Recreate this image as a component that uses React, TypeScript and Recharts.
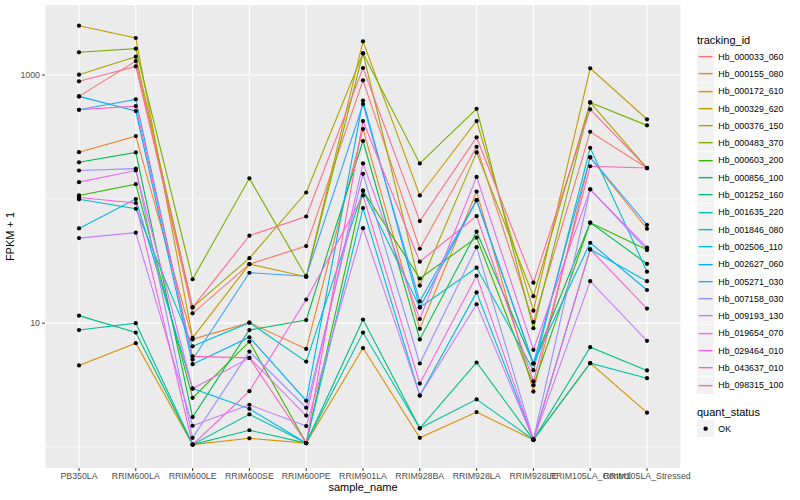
import React from "react";
import { LineChart, Line, XAxis, YAxis, CartesianGrid, ReferenceLine } from "recharts";

const FONT = '"Liberation Sans", Arial, Helvetica, sans-serif';

const SAMPLES = [
    "PB350LA", "RRIM600LA", "RRIM600LE", "RRIM600SE", "RRIM600PE", "RRIM901LA",
    "RRIM928BA", "RRIM928LA", "RRIM928LE", "RRIM105LA_Control", "RRIM105LA_Stressed",
];

const IDS = [
    "Hb_000033_060", "Hb_000155_080", "Hb_000172_610", "Hb_000329_620", "Hb_000376_150",
    "Hb_000483_370", "Hb_000603_200", "Hb_000856_100", "Hb_001252_160", "Hb_001635_220",
    "Hb_001846_080", "Hb_002506_110", "Hb_002627_060", "Hb_005271_030", "Hb_007158_030",
    "Hb_009193_130", "Hb_019654_070", "Hb_029464_010", "Hb_043637_010", "Hb_098315_100",
];

const COLORS = [
    "#F8766D", "#EA8331", "#D89000", "#C09B00", "#A3A500", "#7CAE00", "#39B600", "#00BB4E", "#00BF7D", "#00C1A3",
    "#00BFC4", "#00BAE0", "#00B0F6", "#35A2FF", "#9590FF", "#C77CFF", "#E76BF3", "#FA62DB", "#FF62BC", "#FF6C91",
];

// FPKM + 1, one array per tracking_id, in SAMPLES order
const Hb_000033_060 = [673, 1297, 12.0, 29.9, 41.8, 906, 39.8, 264, 10.2, 349, 178];
const Hb_000155_080 = [239, 322, 7.4, 10.1, 6.2, 367, 9.0, 115, 2.81, 217, 57.7];
const Hb_000172_610 = [4.56, 6.9, 1.05, 1.18, 1.08, 6.3, 1.19, 1.92, 1.15, 4.76, 1.9];
const Hb_000329_620 = [2500, 1990, 7.6, 29.9, 23.7, 1870, 107, 426, 12.6, 1132, 440];
const Hb_000376_150 = [1007, 1406, 13.4, 33.4, 113, 1497, 20.1, 238, 16.5, 602, 178];
const Hb_000483_370 = [1525, 1633, 22.6, 147, 23.7, 1497, 194, 535, 9.1, 602, 393];
const Hb_000603_200 = [107, 132, 2.5, 7.1, 1.08, 117, 22.9, 49, 3.16, 64.6, 39];
const Hb_000856_100 = [198, 238, 1.75, 8.8, 10.6, 294, 7.4, 54.6, 4.73, 64.6, 30.1];
const Hb_001252_160 = [11.5, 8.4, 1.05, 1.37, 1.08, 10.7, 1.42, 4.82, 1.15, 6.4, 4.16];
const Hb_001635_220 = [8.8, 10, 1.05, 1.84, 1.08, 8.4, 1.42, 2.43, 1.15, 4.76, 3.6];
const Hb_001846_080 = [99.6, 83.6, 6.5, 10.1, 4.9, 117, 13.4, 28, 4.18, 259, 26];
const Hb_002506_110 = [58, 100, 2.97, 2.04, 1.08, 84.6, 2.61, 17.7, 1.15, 39.3, 21.8];
const Hb_002627_060 = [673, 513, 4.67, 7.7, 2.37, 622, 13.4, 98, 4.73, 44.5, 18.5];
const Hb_005271_030 = [525, 637, 5.1, 25.5, 23.9, 584, 15, 98, 4.73, 217, 62];
const Hb_007158_030 = [170, 176, 1.19, 5.9, 2.08, 160, 4.73, 41, 1.15, 120, 39];
const Hb_009193_130 = [48.5, 53.6, 1.49, 2.2, 1.48, 58.3, 2.61, 14.2, 1.15, 21.8, 7.2];
const Hb_019654_070 = [137, 170, 2.97, 5.25, 1.8, 194, 10.8, 151, 6.1, 120, 40.7];
const Hb_029464_010 = [103, 93, 1.05, 2.83, 15.5, 107, 3.26, 24.1, 1.15, 39.3, 13.1];
const Hb_043637_010 = [525, 562, 5.4, 5.25, 1.08, 426, 31.3, 73, 3.4, 184, 178];
const Hb_098315_100 = [890, 1175, 13.4, 50.7, 72.4, 1140, 66.5, 315, 21.2, 529, 178];

const SERIES = [
    Hb_000033_060, Hb_000155_080, Hb_000172_610, Hb_000329_620, Hb_000376_150,
    Hb_000483_370, Hb_000603_200, Hb_000856_100, Hb_001252_160, Hb_001635_220,
    Hb_001846_080, Hb_002506_110, Hb_002627_060, Hb_005271_030, Hb_007158_030,
    Hb_009193_130, Hb_019654_070, Hb_029464_010, Hb_043637_010, Hb_098315_100,
];

const Y_TICKS = [10, 1000];
const MAJOR_LINES = [10, 1000];
const MINOR_LINES = [1, 100];

const rows = SAMPLES.map((s, i) => {
    const r: Record<string, string | number> = { sample_name: s };
    IDS.forEach((id, j) => { r[id] = SERIES[j][i]; });
    return r;
});

function LegendBox() {
    const key = 17.3;
    return (
        <div style={{ position: "absolute", left: 697, top: 33, fontFamily: FONT, color: "#000" }}>
            <div style={{ fontSize: 11, height: 15, lineHeight: "15px" }}>tracking_id</div>
            {IDS.map((id, i) => (
                <div key={id} style={{ display: "flex", alignItems: "center", height: key }}>
                    <svg width={key} height={key} style={{ display: "block" }}>
                        <rect width={key} height={key} fill="#F2F2F2" />
                        <line x1={1.7} x2={key - 1.7} y1={key / 2} y2={key / 2} stroke={COLORS[i]} strokeWidth={1.4} />
                    </svg>
                    <span style={{ fontSize: 8.8, marginLeft: 4 }}>{id}</span>
                </div>
            ))}
            <div style={{ fontSize: 11, height: 15, lineHeight: "15px", marginTop: 11 }}>quant_status</div>
            <div style={{ display: "flex", alignItems: "center", height: key }}>
                <svg width={key} height={key} style={{ display: "block" }}>
                    <rect width={key} height={key} fill="#F2F2F2" />
                    <circle cx={key / 2} cy={key / 2} r={2.2} fill="#000" />
                </svg>
                <span style={{ fontSize: 8.8, marginLeft: 4 }}>OK</span>
            </div>
        </div>
    );
}

export default function App() {
    const tick = { fontSize: 8.8, fill: "#4D4D4D", fontFamily: FONT };
    return (
        <div style={{ position: "relative", width: 800, height: 500, background: "#fff" }}>
            <style>{`body{margin:0}`}</style>
            <LineChart width={800} height={500} data={rows} margin={{ top: 5, right: 119, bottom: 0, left: 0 }}>
                <CartesianGrid horizontal={false} stroke="#FFFFFF" strokeWidth={1.1} fill="#EBEBEB" />
                {MINOR_LINES.map(v => <ReferenceLine key={"m" + v} y={v} stroke="#FFFFFF" strokeWidth={0.55} />)}
                {MAJOR_LINES.map(v => <ReferenceLine key={"M" + v} y={v} stroke="#FFFFFF" strokeWidth={1.1} />)}
                <XAxis dataKey="sample_name" interval={0} height={32} padding={{ left: 34, right: 34 }}
                    tick={tick} tickSize={3} tickMargin={2} axisLine={false} tickLine={{ stroke: "#333333" }}
                    label={{ value: "sample_name", position: "insideBottom", offset: 9, style: { fontSize: 11, fill: "#000", fontFamily: FONT } }} />
                <YAxis type="number" scale="log" domain={[0.68, 3670]} allowDataOverflow ticks={Y_TICKS} width={45}
                    tick={tick} tickSize={3} tickMargin={2} axisLine={false} tickLine={{ stroke: "#333333" }}
                    label={{ value: "FPKM + 1", angle: -90, position: "insideLeft", offset: 10, style: { fontSize: 11, fill: "#000", fontFamily: FONT, textAnchor: "middle" } }} />
                {IDS.map((id, i) => (
                    <Line key={id} dataKey={id} type="linear" stroke={COLORS[i]} strokeWidth={1.1}
                        dot={false} activeDot={false} isAnimationActive={false} />
                ))}
                {IDS.map(id => (
                    <Line key={id + "_pt"} dataKey={id} type="linear" stroke="none" strokeWidth={0}
                        dot={{ r: 2.1, fill: "#000", stroke: "none" }} activeDot={false} isAnimationActive={false} />
                ))}
            </LineChart>
            <LegendBox />
        </div>
    );
}
